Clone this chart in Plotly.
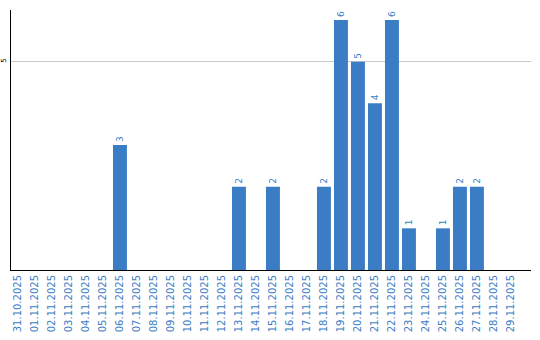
import plotly.graph_objects as go

dates = ["31.10.2025", "01.11.2025", "02.11.2025", "03.11.2025", "04.11.2025",
         "05.11.2025", "06.11.2025", "07.11.2025", "08.11.2025", "09.11.2025",
         "10.11.2025", "11.11.2025", "12.11.2025", "13.11.2025", "14.11.2025",
         "15.11.2025", "16.11.2025", "17.11.2025", "18.11.2025", "19.11.2025",
         "20.11.2025", "21.11.2025", "22.11.2025", "23.11.2025", "24.11.2025",
         "25.11.2025", "26.11.2025", "27.11.2025", "28.11.2025", "29.11.2025"]
values = [0, 0, 0, 0, 0, 0, 3, 0, 0, 0,
          0, 0, 0, 2, 0, 2, 0, 0, 2, 6,
          5, 4, 6, 1, 0, 1, 2, 2, 0, 0]

blue = "#3b7dc4"
labels = [str(v) if v > 0 else "" for v in values]

fig = go.Figure(go.Bar(
    x=dates, y=values, marker=dict(color=blue, line=dict(width=0)),
    text=labels, textposition="outside", textangle=-90,
    textfont=dict(color=blue, size=9, family="DejaVu Sans"),
    cliponaxis=False,
))

fig.update_layout(
    width=540, height=340,
    margin=dict(l=11, r=9, t=10, b=70, autoexpand=False),
    paper_bgcolor="white", plot_bgcolor="white",
    bargap=0.18, showlegend=False,
    font=dict(family="DejaVu Sans"),
    uniformtext=dict(minsize=9, mode="show"),
)
fig.update_xaxes(
    type="category", range=[-0.41, 30.18], tickangle=-90,
    tickfont=dict(color=blue, size=10, family="DejaVu Sans"),
    showline=True, linecolor="black", linewidth=1, showgrid=False,
    ticks="", ticklen=0, automargin=False,
)
fig.update_yaxes(
    range=[0, 6.24], tickvals=[5], ticktext=["5"], tickangle=-90,
    tickfont=dict(color="black", size=7, family="DejaVu Sans"),
    showgrid=True, gridcolor="#c8c8c8", gridwidth=1,
    showline=True, linecolor="black", linewidth=1, zeroline=False,
    ticks="", ticklabelstandoff=1, automargin=False,
)

fig.write_html("out.html")
